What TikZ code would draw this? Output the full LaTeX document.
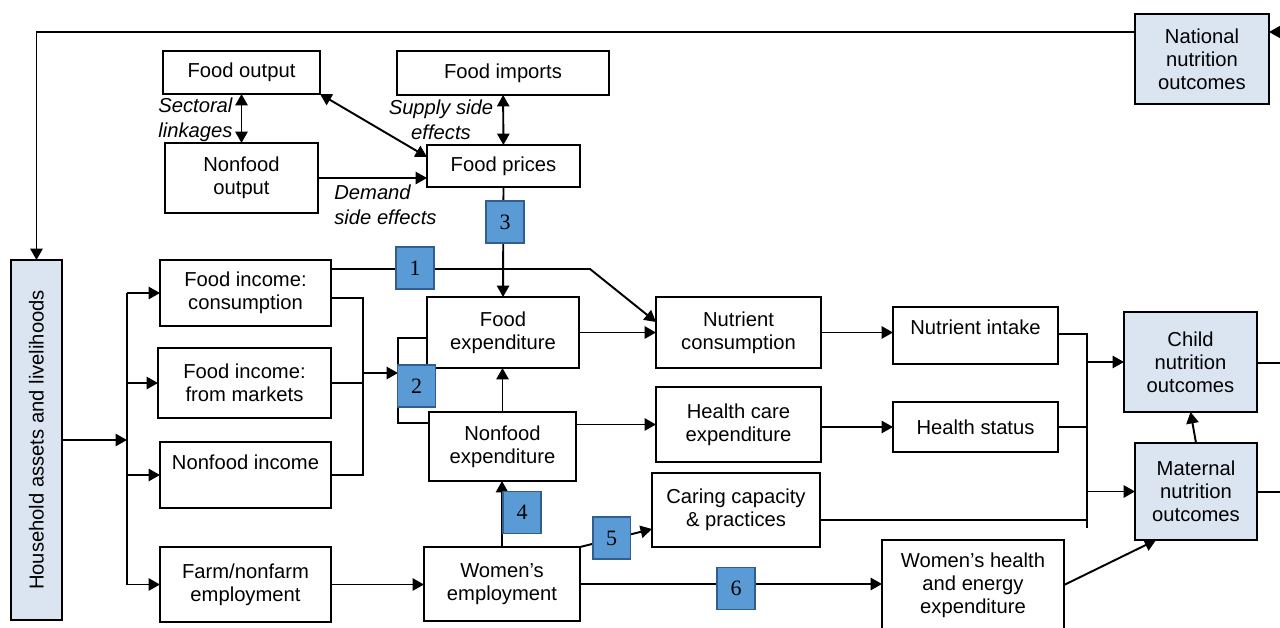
\documentclass[tikz,border=0pt]{standalone}
\usepackage{fontspec}
\usepackage{graphicx}
\setmainfont{Liberation Sans}
\newfontfamily\numfont{Liberation Serif}
\usetikzlibrary{arrows.meta}
\definecolor{lightbox}{RGB}{219,229,241}
\definecolor{numfill}{RGB}{91,155,213}
\definecolor{numdraw}{RGB}{49,94,145}
\newcommand\bx[7]{\node[#6, minimum width={(#4-#2)*0.02cm}, minimum height={(#5-#3)*0.02cm}] (#1) at ({(#2+#4)/2},{(#3+#5)/2}) {#7};}
\tikzset{
  box/.style={draw, line width=1.2pt, fill=white, align=center, inner sep=1pt, outer sep=0pt, font=\fontsize{11.5}{13.2}\selectfont},
  obox/.style={box, fill=lightbox},
  num/.style={draw=numdraw, fill=numfill, line width=1pt, minimum width=21.5pt, minimum height=23.8pt, inner sep=0pt, font=\numfont\fontsize{12.5}{14}\selectfont},
  conn/.style={line width=1.1pt},
  arr/.style={conn, -{Triangle[length=6.5pt,width=7pt]}},
  darr/.style={conn, {Triangle[length=6.5pt,width=7pt]}-{Triangle[length=6.5pt,width=7pt]}},
  lbl/.style={font=\itshape\fontsize{11.5}{14}\selectfont, inner sep=0pt}
}
\begin{document}
\begin{tikzpicture}[x=0.02cm, y=-0.02cm]
\useasboundingbox (0,0) rectangle (1280,628);
\clip (0,0) rectangle (1280,628);
\fill[white] (0,0) rectangle (1280,628);
% boxes
\bx{fo}{163}{51}{320}{94}{box}{Food output}
\bx{fi}{397}{51}{609}{95}{box}{Food imports}
\bx{nfo}{165}{143}{318}{213}{box}{Nonfood\\output}
\bx{fp}{427}{145}{580}{187}{box}{Food prices}
\bx{nat}{1135}{14}{1269}{104}{obox}{National\\nutrition\\outcomes}
\bx{hh}{11}{260}{62}{620}{obox}{\rotatebox{90}{Household assets and livelihoods}}
\bx{fic}{160}{260}{331}{326}{box}{Food income:\\consumption}
\bx{fim}{158}{348}{331}{418}{box}{Food income:\\from markets}
\bx{nfi}{160}{442}{331}{508}{box}{\raisebox{15pt}{Nonfood income}}
\bx{farm}{160}{547}{331}{622}{box}{Farm/nonfarm\\employment}
\bx{fe}{427}{297}{579}{368}{box}{Food\\expenditure}
\bx{nfe}{429}{412}{576}{481}{box}{Nonfood\\expenditure}
\bx{we}{424}{547}{580}{621}{box}{Women’s\\employment}
\bx{nc}{656}{297}{821}{368}{box}{Nutrient\\consumption}
\bx{hc}{656}{387}{821}{462}{box}{Health care\\expenditure}
\bx{cc}{652}{473}{820}{547}{box}{Caring capacity\\\& practices}
\bx{ni}{893}{307}{1058}{364}{box}{\raisebox{9pt}{Nutrient intake}}
\bx{hs}{893}{402}{1058}{452}{box}{Health status}
\bx{wh}{882}{540}{1064}{630}{box}{Women’s health\\and energy\\expenditure}
\bx{child}{1124}{312}{1257}{412}{obox}{Child\\nutrition\\outcomes}
\bx{mat}{1135}{443}{1257}{540}{obox}{Maternal\\nutrition\\outcomes}
% labels
\node[lbl, anchor=west, align=left] (sl) at (158,120) {Sectoral\\linkages};
\node[lbl, align=center] (ss) at (441,120) {Supply side\\effects};
\node[lbl, anchor=west, align=left] (ds) at (334,205) {Demand\\side effects};
% feedback loop
\draw[arr] (nat.west |- 0,32) -| (hh.north);
\coordinate (rt) at (1280,32);
\draw[arr] (rt) -- (nat.east |- rt);
% market block
\draw[darr] (fo) -- (nfo);
\draw[darr] (fo.south east) -- (fp.west |- 0,157);
\draw[darr] (fi) -- (fp);
\draw[arr] (nfo.east) -- (fp.west |- nfo.east);
\draw[arr] (fp.south) -- (fe.north);
% household bus
\coordinate (bus) at (127,440);
\draw[arr] (hh.east) -- (bus);
\draw[conn] (bus |- fic.west) -- (bus |- farm.west);
\foreach \b in {fic,fim,nfi,farm} \draw[arr] (bus |- \b.west) -- (\b.west);
% incomes merge
\coordinate (mg) at (363,373);
\coordinate (brk) at (398,373);
\draw[conn] (fic.east |- 0,298) -| (mg |- nfi.east) -- (nfi.east);
\draw[conn] (fim.east) -- (fim.east -| mg);
\draw[arr] (mg) -- (brk);
\draw[conn] (fe.west |- 0,338) -| (brk |- 0,423) -- (nfe.west |- 0,423);
\draw[arr] (nfe.north) -- (fe.south -| nfe.north);
\draw[arr] (fic.east |- 0,269) -- (590,269) -- (nc.west |- 0,322);
\draw[arr] (fe.east) -- (nc.west |- fe.east);
\draw[arr] (nc.east) -- (ni.west |- nc.east);
\draw[arr] (nfe.east |- hc.west) -- (hc.west);
\draw[arr] (hc.east |- hs.west) -- (hs.west);
% outcomes bus
\coordinate (ob) at (1087,334);
\draw[conn] (ni.east |- ob) -- (ob) -- (1087,528);
\draw[conn] (hs.east) -- (hs.east -| ob);
\draw[conn] (cc.east |- 0,520) -- (ob |- 0,520);
\draw[arr] (ob |- child.west) -- (child.west);
\draw[arr] (ob |- mat.west) -- (mat.west);
\draw[arr] (mat.north) -- (child.south);
\coordinate (rc) at (1280,363);
\coordinate (rm) at (1280,492);
\draw[conn] (child.east |- rc) -- (rc);
\draw[conn] (mat.east |- rm) -- (rm);
% employment
\draw[arr] (farm.east) -- (we.west |- farm.east);
\draw[arr] (we.north) -- (nfe.south -| we.north);
\draw[arr] (we.north east) -- (cc.west |- 0,529);
\draw[arr] (we.east) -- (wh.west |- we.east);
\draw[arr] (wh.east) -- (mat.south -| 1156,0);
% numbered boxes
\node[num] (n1) at (415,268) {1};
\node[num] (n2) at (416.5,386) {2};
\node[num] (n3) at (505,222) {3};
\node[num] (n4) at (522,512.5) {4};
\node[num] (n5) at (611.5,538) {5};
\node[num] (n6) at (736,588.5) {6};
\end{tikzpicture}
\end{document}
